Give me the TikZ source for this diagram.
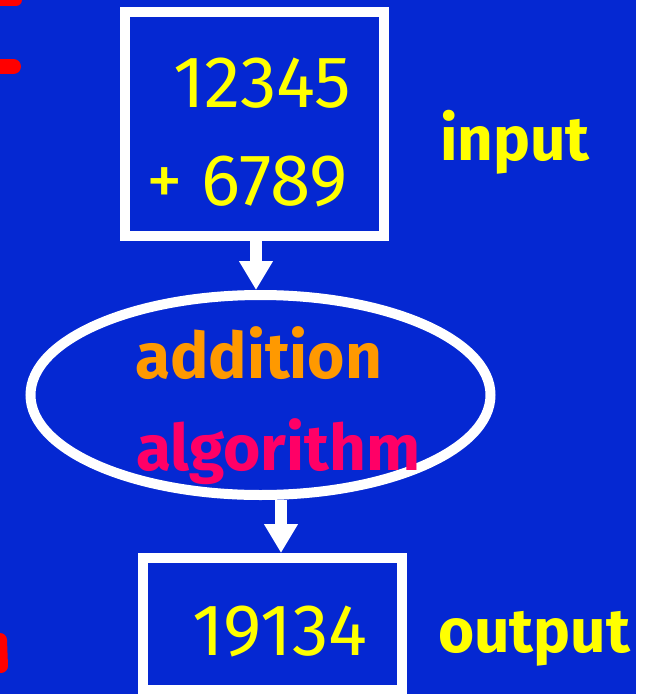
\documentclass[tikz,border=0pt]{standalone}
\usepackage{fontspec}
\setmainfont{Fira Sans}
\usetikzlibrary{shapes.geometric,arrows.meta}
\definecolor{slideblue}{RGB}{5,40,210}
\definecolor{numyellow}{RGB}{255,255,0}
\definecolor{addorange}{RGB}{255,153,0}
\definecolor{algopink}{RGB}{255,0,102}
\definecolor{markred}{RGB}{255,0,0}
\tikzset{
  frame/.style={draw=white, line width=10pt, inner sep=0pt},
  numtext/.style={text=numyellow, anchor=base west, inner sep=0pt, font=\fontsize{73}{80}\selectfont},
  labeltext/.style={text=numyellow, anchor=base west, inner sep=0pt, font=\fontsize{62}{72}\selectfont\bfseries},
  algtext/.style={anchor=base west, inner sep=0pt, font=\fontsize{64}{72}\selectfont\bfseries},
  flow/.style={draw=white, line width=12pt, -{Triangle[width=32pt,length=29pt]}},
  scribble/.style={draw=markred, line cap=round},
}
\begin{document}
\begin{tikzpicture}[x=1pt,y=-1pt]
  \useasboundingbox (0,0) rectangle (648,694);
  \fill[white] (0,0) rectangle (648,694);
  \fill[slideblue] (0,0) rectangle (636,694);

  % red pen strokes at the left edge
  \draw[scribble, line width=12pt] (-10,0) -- (16,0);
  \draw[scribble, line width=15pt] (-10,66.5) -- (13.5,66.5);
  \draw[scribble, line width=14pt] (0,640) -- (1,666);

  % boxes and the algorithm ellipse
  \node[frame, rectangle, minimum width=259pt, minimum height=224pt] (inbox) at (254.5,124) {};
  \node[frame, ellipse, minimum width=460pt, minimum height=200pt] (alg) at (260.5,395) {};
  \node[frame, rectangle, minimum width=259pt, minimum height=132pt] (outbox) at (272.5,624) {};

  % texts
  \node[numtext] (n1) at (173,107) {12345};
  \node[numtext] (n2) at (146,205) {+ 6789};
  \node[numtext] (n3) at (192,655) {19134};
  \node[labeltext] (lin) at (440,160) {input};
  \node[labeltext] (lout) at (438,652) {output};
  \node[algtext, text=addorange] (w1) at (135,378) {addition};
  \node[algtext, text=algopink] (w2) at (136,470) {algorithm};

  % arrows
  \coordinate (c1) at (256,0);
  \coordinate (c2) at (281,0);
  \draw[flow] (inbox.south -| c1) -- (alg.north -| c1);
  \draw[flow] (alg.south -| c2) -- (outbox.north -| c2);
\end{tikzpicture}
\end{document}
